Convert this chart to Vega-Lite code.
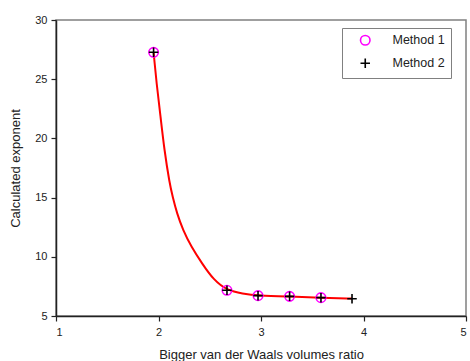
{
  "$schema": "https://vega.github.io/schema/vega-lite/v6.json",
  "width": 410,
  "height": 296,
  "autosize": {"type": "none"},
  "padding": {"left": 56, "top": 20, "right": 4, "bottom": 45},
  "background": "white",
  "datasets": {
    "fit": [
      {"ratio": 1.952, "exponent": 27.27},
      {"ratio": 1.981, "exponent": 24.65},
      {"ratio": 2.020, "exponent": 21.83},
      {"ratio": 2.057, "exponent": 19.02},
      {"ratio": 2.108, "exponent": 16.21},
      {"ratio": 2.138, "exponent": 15.08},
      {"ratio": 2.180, "exponent": 13.67},
      {"ratio": 2.239, "exponent": 12.26},
      {"ratio": 2.320, "exponent": 10.85},
      {"ratio": 2.424, "exponent": 9.45},
      {"ratio": 2.538, "exponent": 8.04},
      {"ratio": 2.668, "exponent": 7.17},
      {"ratio": 2.820, "exponent": 6.88},
      {"ratio": 2.971, "exponent": 6.72},
      {"ratio": 3.279, "exponent": 6.64},
      {"ratio": 3.585, "exponent": 6.55},
      {"ratio": 3.888, "exponent": 6.47}
    ],
    "points": [
      {"method": "Method 1", "ratio": 1.952, "exponent": 27.27},
      {"method": "Method 1", "ratio": 2.668, "exponent": 7.17},
      {"method": "Method 1", "ratio": 2.971, "exponent": 6.72},
      {"method": "Method 1", "ratio": 3.279, "exponent": 6.66},
      {"method": "Method 1", "ratio": 3.585, "exponent": 6.55},
      {"method": "Method 2", "ratio": 1.952, "exponent": 27.27},
      {"method": "Method 2", "ratio": 2.668, "exponent": 7.17},
      {"method": "Method 2", "ratio": 2.971, "exponent": 6.72},
      {"method": "Method 2", "ratio": 3.279, "exponent": 6.66},
      {"method": "Method 2", "ratio": 3.585, "exponent": 6.55},
      {"method": "Method 2", "ratio": 3.888, "exponent": 6.46}
    ]
  },
  "config": {
    "font": "Liberation Sans",
    "view": {"stroke": "#808080", "strokeWidth": 1.5},
    "axis": {
      "grid": false,
      "domainColor": "#222222",
      "domainWidth": 1.5,
      "tickColor": "#222222",
      "tickWidth": 1.2,
      "tickSize": 5,
      "labelFont": "Liberation Sans",
      "labelFontSize": 11,
      "labelColor": "#222222",
      "titleFont": "Liberation Sans",
      "titleFontSize": 13,
      "titleFontWeight": "normal",
      "titleColor": "#222222"
    },
    "legend": {
      "labelFont": "Liberation Sans",
      "labelFontSize": 12.5,
      "labelColor": "#222222"
    }
  },
  "layer": [
    {
      "data": {"name": "fit"},
      "mark": {"type": "line", "color": "#ff0000", "strokeWidth": 2, "interpolate": "basis"},
      "encoding": {
        "x": {
          "field": "ratio",
          "type": "quantitative",
          "scale": {"domain": [1, 5], "nice": false, "zero": false},
          "axis": {
            "values": [1, 2, 3, 4, 5],
            "format": "d",
            "title": "Bigger van der Waals volumes ratio",
            "labelPadding": 5,
            "titlePadding": 11
          }
        },
        "y": {
          "field": "exponent",
          "type": "quantitative",
          "scale": {"domain": [5, 30], "nice": false, "zero": false},
          "axis": {
            "values": [5, 10, 15, 20, 25, 30],
            "format": "d",
            "title": "Calculated exponent",
            "labelPadding": 4,
            "titlePadding": 12
          }
        }
      }
    },
    {
      "data": {"name": "points"},
      "mark": {"type": "point", "filled": false, "strokeWidth": 1.6, "size": 90, "opacity": 1},
      "encoding": {
        "x": {"field": "ratio", "type": "quantitative"},
        "y": {"field": "exponent", "type": "quantitative"},
        "color": {
          "field": "method",
          "type": "nominal",
          "scale": {"domain": ["Method 1", "Method 2"], "range": ["#ff00ff", "#000000"]},
          "legend": {
            "title": null,
            "orient": "none",
            "legendX": 286,
            "legendY": 8,
            "padding": 6,
            "rowPadding": 6,
            "symbolOffset": 11,
            "labelOffset": 21,
            "symbolSize": 90,
            "symbolStrokeWidth": 1.6,
            "strokeColor": "#808080",
            "fillColor": "white",
            "cornerRadius": 0
          }
        },
        "shape": {
          "field": "method",
          "type": "nominal",
          "scale": {"domain": ["Method 1", "Method 2"], "range": ["circle", "M-1,0H1M0,-1V1"]}
        }
      }
    }
  ]
}
